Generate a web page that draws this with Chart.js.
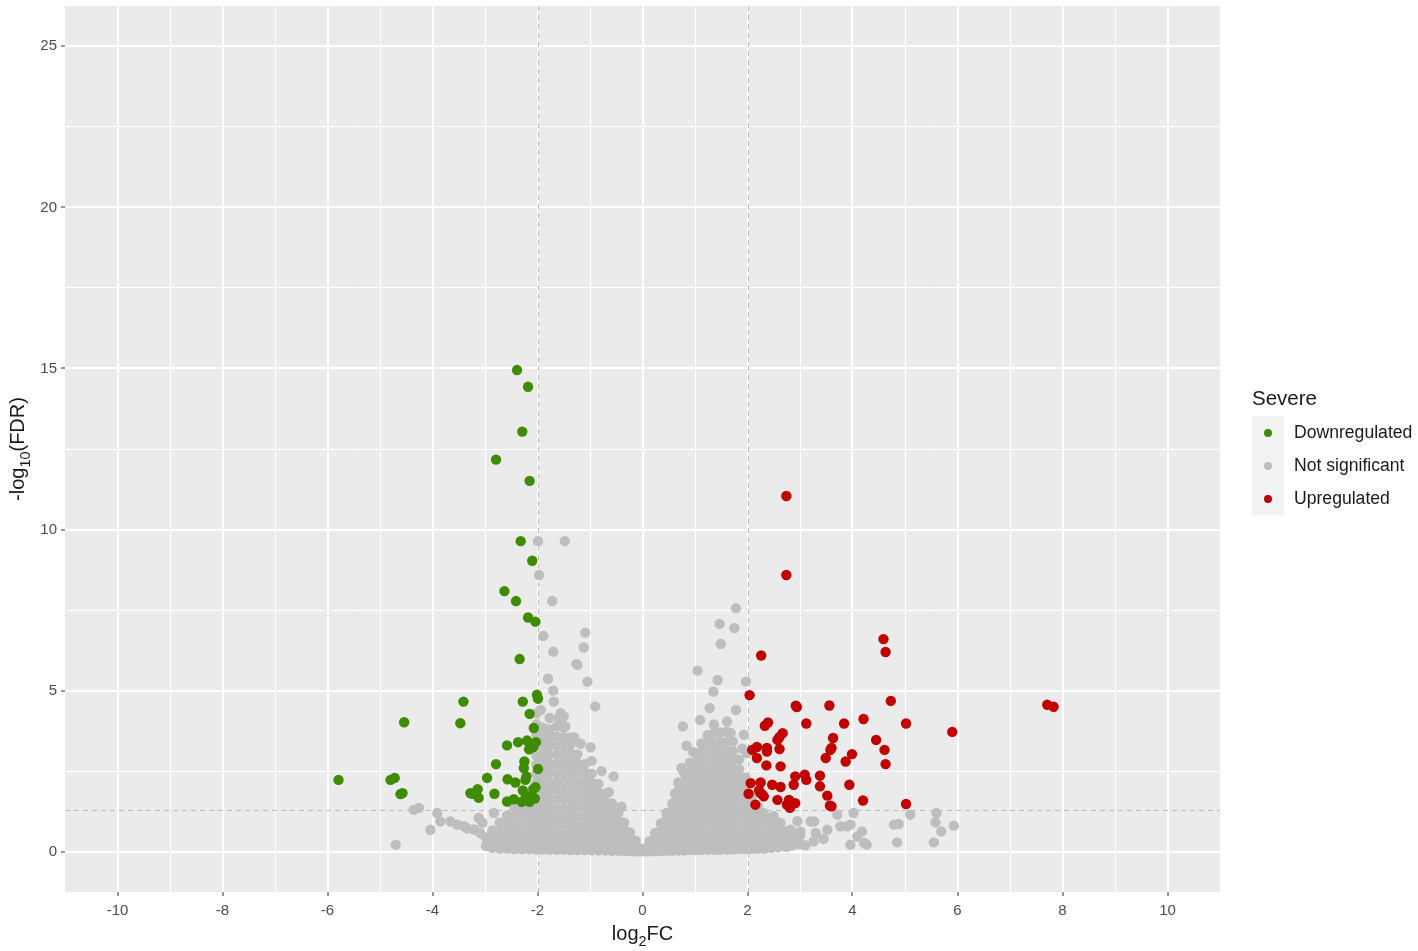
<!DOCTYPE html>
<html>
<head>
<meta charset="utf-8">
<title>Volcano plot - Severe</title>
<script src="https://cdn.jsdelivr.net/npm/chart.js@4.4.1/dist/chart.umd.min.js"></script>
<style>
  html, body { margin: 0; padding: 0; background: #fff; }
  #wrap { position: relative; width: 1418px; height: 951px; }
  #legend { position: absolute; left: 1252px; top: 386px; font-family: "Liberation Sans", Arial, sans-serif; color: #1a1a1a; }
  #legend .ttl { font-size: 20.5px; line-height: 24px; margin-bottom: 6px; }
  #legend .row { display: flex; align-items: center; height: 33px; }
  #legend .key { width: 32px; height: 33px; background: #F2F2F2; display: flex; align-items: center; justify-content: center; }
  #legend .dot { width: 8px; height: 8px; border-radius: 50%; }
  #legend .lbl { font-size: 17.6px; margin-left: 10px; }
</style>
</head>
<body>
<div id="wrap">
  <canvas id="volcano" width="1418" height="951"></canvas>
  <div id="legend"></div>
</div>
<script>
// ---- data (x = log2FC, y = -log10(FDR)) ----
const groupNames = ['Downregulated', 'Not significant', 'Upregulated'];
const groupColors = ['#3F8C00', '#BEBEBE', '#C20000'];
const legendTitle = 'Severe';

const xGridVals = [-11, -10, -9, -8, -7, -6, -5, -4, -3, -2, -1, 0, 1, 2, 3, 4, 5, 6, 7, 8, 9, 10, 11];
const xLabelVals = [-10, -8, -6, -4, -2, 0, 2, 4, 6, 8, 10];
const yGridVals = [0, 2.5, 5, 7.5, 10, 12.5, 15, 17.5, 20, 22.5, 25];
const yLabelVals = [0, 5, 10, 15, 20, 25];
const fcCut = 2;
const fdrCut = 1.3;

const downPoints = [
  [-5.79, 2.23], [-4.80, 2.23], [-4.72, 2.29], [-4.61, 1.79], [-4.57, 1.82], [-4.54, 4.02],
  [-3.47, 3.99], [-3.41, 4.66], [-3.28, 1.82], [-3.14, 1.94], [-3.12, 1.67], [-3.24, 1.80],
  [-2.96, 2.29], [-2.82, 1.80], [-2.79, 2.72], [-2.79, 12.17], [-2.63, 8.09], [-2.58, 3.30],
  [-2.57, 2.25], [-2.58, 1.56], [-2.45, 1.63], [-2.42, 2.15], [-2.41, 7.78], [-2.39, 14.95],
  [-2.37, 3.40], [-2.34, 5.98], [-2.32, 9.64], [-2.29, 13.04], [-2.28, 4.66], [-2.26, 2.60],
  [-2.25, 2.80], [-2.23, 2.23], [-2.21, 2.34], [-2.18, 14.43], [-2.18, 7.27], [-2.15, 11.51],
  [-2.15, 4.28], [-2.10, 9.03], [-2.07, 3.84], [-2.04, 7.14], [-2.01, 4.87], [-1.99, 4.75],
  [-1.99, 2.57], [-2.20, 3.45], [-2.14, 3.35], [-2.08, 3.25], [-2.03, 3.40], [-2.16, 3.18],
  [-2.28, 1.90], [-2.22, 1.70], [-2.15, 1.55], [-2.08, 1.95], [-2.04, 2.00], [-2.30, 1.55],
  [-2.12, 1.75], [-2.05, 1.65]
];

const upPoints = [
  [2.74, 11.04], [2.74, 8.59], [4.59, 6.60], [4.63, 6.20], [2.26, 6.09], [2.04, 4.86],
  [4.73, 4.68], [2.92, 4.53], [2.94, 4.49], [3.56, 4.54], [3.12, 3.98], [3.84, 3.98],
  [4.21, 4.12], [5.02, 3.98], [5.90, 3.72], [2.33, 3.91], [2.39, 4.01], [2.61, 3.56],
  [2.67, 3.68], [2.57, 3.47], [3.63, 3.53], [3.60, 3.22], [3.58, 3.16], [3.49, 2.91],
  [4.45, 3.47], [4.61, 3.16], [4.63, 2.72], [3.99, 3.03], [3.87, 2.80], [2.09, 3.16],
  [2.18, 3.25], [2.18, 2.91], [2.37, 3.22], [2.37, 3.11], [2.61, 3.19], [2.36, 2.68],
  [2.63, 2.65], [2.06, 2.13], [2.25, 2.15], [2.02, 1.80], [2.25, 1.82], [2.31, 1.72],
  [2.15, 1.46], [2.47, 2.08], [2.63, 2.01], [2.57, 1.61], [2.79, 1.61], [2.81, 1.36],
  [2.91, 1.51], [2.91, 2.34], [2.88, 2.08], [3.09, 2.39], [3.12, 2.23], [3.38, 2.36],
  [3.38, 2.03], [3.52, 1.74], [3.57, 1.43], [3.60, 1.41], [3.94, 2.08], [4.20, 1.59],
  [5.02, 1.48], [7.71, 4.56], [7.83, 4.50], [2.28, 1.78], [2.22, 1.90], [2.75, 1.46]
];

// not significant: dense left body, one x column per entry
const nsLeftBody = [
  [-2.98, [0.18, 0.44]],
  [-2.86, [0.12, 0.38, 0.66]],
  [-2.72, [0.1, 0.36, 0.62, 0.9]],
  [-2.58, [0.1, 0.34, 0.6, 0.86, 1.12]],
  [-2.44, [0.08, 0.33, 0.58, 0.84, 1.1, 1.36]],
  [-2.3, [0.08, 0.32, 0.58, 0.85, 1.12, 1.38]],
  [-2.16, [0.08, 0.3, 0.56, 0.83, 1.1, 1.36, 1.62]],
  [-2.02, [0.07, 0.3, 0.55, 0.8, 1.06, 1.32, 1.6, 1.88, 2.15, 2.42, 2.7, 2.98, 3.3, 3.62, 3.95, 4.3]],
  [-1.9, [0.07, 0.32, 0.58, 0.84, 1.1, 1.37, 1.64, 1.92, 2.2, 2.48, 2.76, 3.04, 3.32, 3.6, 3.85]],
  [-1.77, [0.06, 0.3, 0.56, 0.82, 1.08, 1.35, 1.62, 1.9, 2.17, 2.45, 2.72, 3.0, 3.28, 3.55, 3.8, 4.15]],
  [-1.63, [0.06, 0.31, 0.57, 0.84, 1.1, 1.37, 1.64, 1.91, 2.18, 2.46, 2.74, 3.02, 3.3, 3.58, 3.9]],
  [-1.5, [0.06, 0.3, 0.55, 0.82, 1.09, 1.36, 1.63, 1.9, 2.18, 2.45, 2.73, 3.0, 3.28, 3.55, 3.85, 4.2]],
  [-1.37, [0.05, 0.3, 0.56, 0.83, 1.1, 1.37, 1.64, 1.92, 2.2, 2.48, 2.76, 3.04, 3.32, 3.55]],
  [-1.24, [0.05, 0.29, 0.55, 0.81, 1.08, 1.35, 1.62, 1.9, 2.18, 2.46, 2.74, 3.02]],
  [-1.1, [0.05, 0.29, 0.55, 0.82, 1.09, 1.36, 1.63, 1.9, 2.17, 2.45, 2.72]],
  [-0.97, [0.04, 0.28, 0.54, 0.8, 1.06, 1.33, 1.6, 1.87, 2.14, 2.42]],
  [-0.84, [0.04, 0.27, 0.52, 0.78, 1.04, 1.3, 1.56, 1.83, 2.1]],
  [-0.71, [0.04, 0.26, 0.5, 0.76, 1.02, 1.28, 1.54, 1.8]],
  [-0.58, [0.03, 0.25, 0.49, 0.74, 1.0, 1.25, 1.5]],
  [-0.46, [0.03, 0.24, 0.47, 0.72, 0.97, 1.2]],
  [-0.35, [0.02, 0.22, 0.45, 0.68, 0.9]],
  [-0.24, [0.02, 0.2, 0.42, 0.6]],
  [-0.13, [0.01, 0.18, 0.34]],
  [-0.04, [0.01, 0.1]]
];

// not significant: dense right body
const nsRightBody = [
  [0.04, [0.01, 0.1]],
  [0.13, [0.01, 0.16, 0.32]],
  [0.24, [0.02, 0.2, 0.4, 0.58]],
  [0.35, [0.02, 0.22, 0.44, 0.66, 0.88]],
  [0.46, [0.03, 0.25, 0.5, 0.75, 1.0, 1.2]],
  [0.57, [0.03, 0.26, 0.52, 0.78, 1.04, 1.3, 1.5]],
  [0.68, [0.04, 0.28, 0.54, 0.8, 1.06, 1.33, 1.6, 1.88, 2.15]],
  [0.79, [0.04, 0.29, 0.55, 0.82, 1.09, 1.36, 1.63, 1.9, 2.18, 2.46]],
  [0.9, [0.05, 0.3, 0.56, 0.83, 1.1, 1.37, 1.64, 1.92, 2.2, 2.48, 2.76]],
  [1.01, [0.05, 0.3, 0.57, 0.84, 1.11, 1.38, 1.66, 1.94, 2.22, 2.5, 2.78, 3.06]],
  [1.12, [0.05, 0.31, 0.58, 0.85, 1.12, 1.4, 1.68, 1.96, 2.24, 2.52, 2.8, 3.08, 3.36]],
  [1.24, [0.06, 0.31, 0.58, 0.86, 1.13, 1.41, 1.69, 1.97, 2.25, 2.53, 2.81, 3.09, 3.37, 3.62]],
  [1.36, [0.06, 0.32, 0.59, 0.86, 1.14, 1.42, 1.7, 1.98, 2.26, 2.54, 2.82, 3.1, 3.38, 3.68, 3.95]],
  [1.48, [0.06, 0.32, 0.59, 0.87, 1.15, 1.43, 1.71, 1.99, 2.27, 2.55, 2.83, 3.11, 3.4, 3.7]],
  [1.6, [0.07, 0.32, 0.6, 0.87, 1.15, 1.43, 1.71, 1.99, 2.27, 2.55, 2.83, 3.11, 3.4, 3.72]],
  [1.72, [0.07, 0.33, 0.6, 0.88, 1.16, 1.44, 1.72, 2.0, 2.28, 2.56, 2.84, 3.12, 3.42]],
  [1.84, [0.08, 0.33, 0.6, 0.88, 1.16, 1.44, 1.72, 2.0, 2.28, 2.56, 2.86]],
  [1.96, [0.08, 0.34, 0.6, 0.88, 1.16, 1.44, 1.72, 2.0, 2.3]],
  [2.08, [0.09, 0.34, 0.6, 0.88, 1.16, 1.44, 1.7]],
  [2.2, [0.1, 0.35, 0.6, 0.88, 1.15, 1.4]],
  [2.32, [0.1, 0.36, 0.62, 0.9, 1.12]],
  [2.45, [0.12, 0.38, 0.64, 0.88]],
  [2.58, [0.14, 0.4, 0.66]],
  [2.72, [0.16, 0.42, 0.62]],
  [2.86, [0.2, 0.44]],
  [3.0, [0.24, 0.5]]
];

// not significant: scattered tails and outliers
const nsScatter = [
  [-4.70, 0.22], [-4.36, 1.30], [-4.26, 1.36], [-4.04, 0.68], [-3.91, 1.20], [-3.85, 0.94],
  [-3.66, 0.94], [-3.53, 0.84], [-3.40, 0.79], [-3.34, 0.73], [-3.21, 0.69], [-3.09, 0.58],
  [-3.12, 1.05], [-2.96, 0.37], [-2.83, 1.20], [-3.05, 0.90],
  [-1.99, 9.64], [-1.48, 9.64], [-1.97, 8.59], [-1.72, 7.78], [-1.89, 6.70], [-1.70, 6.21],
  [-1.26, 5.83], [-1.80, 5.37], [-1.70, 5.00], [-1.09, 6.80], [-1.12, 6.34], [-1.24, 5.80],
  [-1.05, 5.28], [-0.90, 4.51], [-0.99, 3.24], [-0.97, 2.82], [-0.55, 2.34], [-1.94, 4.40],
  [-1.69, 4.66], [-1.56, 4.30], [-1.59, 4.15], [-1.47, 3.89], [-1.18, 3.35], [-0.78, 2.5],
  [-0.64, 1.85], [-0.4, 1.4], [-1.3, 3.55],
  [1.78, 7.56], [1.47, 7.07], [1.75, 6.94], [1.49, 6.45], [1.05, 5.62], [1.43, 5.33],
  [1.35, 4.97], [1.97, 5.28], [1.28, 4.46], [1.78, 4.40], [0.77, 3.89], [0.84, 3.29],
  [1.93, 3.63], [1.93, 2.03], [1.68, 3.69], [1.61, 4.04], [1.10, 4.09], [1.99, 3.06],
  [0.62, 1.8], [0.74, 2.6], [0.96, 3.1], [1.9, 3.2],
  [2.31, 1.20], [2.63, 0.89], [2.82, 0.68], [3.01, 0.63], [3.20, 0.94], [3.27, 0.94],
  [3.30, 0.58], [3.26, 0.32], [3.52, 0.68], [3.71, 1.15], [3.77, 0.79], [3.90, 0.79],
  [3.96, 0.84], [3.96, 0.22], [4.02, 1.20], [4.09, 0.47], [4.18, 0.63], [4.22, 0.27],
  [4.27, 0.22], [4.79, 0.84], [4.85, 0.29], [4.88, 0.86], [5.10, 1.15], [5.55, 0.29],
  [5.58, 0.91], [5.60, 1.20], [5.69, 0.63], [5.93, 0.81], [2.76, 0.16], [3.10, 0.20],
  [3.45, 0.40], [2.95, 0.95], [2.50, 1.10]
];

// ---- build chart data ----
const toXY = arr => arr.map(p => ({ x: p[0], y: p[1] }));
const fromColumns = cols => cols.flatMap(c => c[1].map(y => ({ x: c[0], y: y })));
const nsData = fromColumns(nsLeftBody).concat(fromColumns(nsRightBody), toXY(nsScatter));

const FONT = '"Liberation Sans", Arial, sans-serif';
const isIn = (list, v) => list.some(t => Math.abs(t - v) < 1e-9);

const panelBg = {
  id: 'panelBg',
  beforeDraw(chart) {
    const a = chart.chartArea, ctx = chart.ctx;
    ctx.save();
    ctx.fillStyle = '#EBEBEB';
    ctx.fillRect(a.left, a.top, a.right - a.left, a.bottom - a.top);
    ctx.restore();
  }
};

const cutLines = {
  id: 'cutLines',
  beforeDatasetsDraw(chart) {
    const a = chart.chartArea, ctx = chart.ctx;
    const xs = chart.scales.x, ys = chart.scales.y;
    ctx.save();
    ctx.strokeStyle = '#BDBDBD';
    ctx.lineWidth = 1;
    ctx.setLineDash([5, 4]);
    [-fcCut, fcCut].forEach(v => {
      const px = Math.round(xs.getPixelForValue(v)) + 0.5;
      ctx.beginPath(); ctx.moveTo(px, a.top); ctx.lineTo(px, a.bottom); ctx.stroke();
    });
    const py = Math.round(ys.getPixelForValue(fdrCut)) + 0.5;
    ctx.beginPath(); ctx.moveTo(a.left, py); ctx.lineTo(a.right, py); ctx.stroke();
    ctx.restore();
  }
};

// axis titles with subscripts
function drawSub(ctx, parts, size) {
  let w = 0;
  parts.forEach(p => { ctx.font = (p.sub ? size * 0.72 : size) + 'px ' + FONT; w += ctx.measureText(p.t).width; });
  let x = -w / 2;
  parts.forEach(p => {
    const s = p.sub ? size * 0.72 : size;
    ctx.font = s + 'px ' + FONT;
    ctx.fillText(p.t, x, p.sub ? size * 0.28 : 0);
    x += ctx.measureText(p.t).width;
  });
}

const axisTitles = {
  id: 'axisTitles',
  afterDraw(chart) {
    const a = chart.chartArea, ctx = chart.ctx;
    ctx.save();
    ctx.fillStyle = '#1a1a1a';
    ctx.textBaseline = 'alphabetic';
    ctx.textAlign = 'left';
    ctx.translate((a.left + a.right) / 2, 940);
    drawSub(ctx, [{ t: 'log' }, { t: '2', sub: true }, { t: 'FC' }], 20);
    ctx.restore();
    ctx.save();
    ctx.fillStyle = '#1a1a1a';
    ctx.textAlign = 'left';
    ctx.translate(24, (a.top + a.bottom) / 2);
    ctx.rotate(-Math.PI / 2);
    drawSub(ctx, [{ t: '-log' }, { t: '10', sub: true }, { t: '(FDR)' }], 20);
    ctx.restore();
  }
};

const datasets = [
  { label: groupNames[0], data: toXY(downPoints), backgroundColor: groupColors[0], order: 1 },
  { label: groupNames[1], data: nsData, backgroundColor: groupColors[1], order: 3 },
  { label: groupNames[2], data: toXY(upPoints), backgroundColor: groupColors[2], order: 2 }
].map(d => Object.assign(d, { pointRadius: 5.2, pointHoverRadius: 5.2, borderWidth: 0 }));

new Chart(document.getElementById('volcano'), {
  type: 'scatter',
  data: { datasets: datasets },
  options: {
    responsive: false,
    animation: false,
    layout: { padding: { top: 6, right: 198, left: 0, bottom: 0 } },
    plugins: { legend: { display: false }, tooltip: { enabled: false } },
    scales: {
      x: {
        type: 'linear', min: -11, max: 11,
        afterBuildTicks: s => { s.ticks = xGridVals.map(v => ({ value: v })); },
        afterFit: s => { s.height = 59; s.paddingLeft = 0; s.paddingRight = 0; },
        ticks: {
          autoSkip: false, maxRotation: 0, padding: 6, color: '#4D4D4D',
          font: { family: FONT, size: 15 },
          callback: v => isIn(xLabelVals, v) ? String(v) : ''
        },
        grid: {
          color: ctx => Math.abs(ctx.tick.value) > 10.5 ? 'rgba(0,0,0,0)' : '#FFFFFF',
          lineWidth: ctx => isIn(xLabelVals, ctx.tick.value) ? 2 : 1,
          tickLength: 4, tickWidth: 1,
          tickColor: ctx => isIn(xLabelVals, ctx.tick.value) ? '#333333' : 'rgba(0,0,0,0)'
        },
        border: { display: false }
      },
      y: {
        type: 'linear', min: -1.25, max: 26.25,
        afterBuildTicks: s => { s.ticks = yGridVals.map(v => ({ value: v })); },
        afterFit: s => { s.width = 65; s.paddingTop = 0; s.paddingBottom = 0; },
        ticks: {
          autoSkip: false, padding: 4, color: '#4D4D4D',
          font: { family: FONT, size: 15 },
          callback: v => isIn(yLabelVals, v) ? String(v) : ''
        },
        grid: {
          color: '#FFFFFF',
          lineWidth: ctx => isIn(yLabelVals, ctx.tick.value) ? 2 : 1,
          tickLength: 4, tickWidth: 1,
          tickColor: ctx => isIn(yLabelVals, ctx.tick.value) ? '#333333' : 'rgba(0,0,0,0)'
        },
        border: { display: false }
      }
    }
  },
  plugins: [panelBg, cutLines, axisTitles]
});

// legend
const legend = document.getElementById('legend');
let html = '<div class="ttl">' + legendTitle + '</div>';
groupNames.forEach((n, i) => {
  html += '<div class="row"><div class="key"><div class="dot" style="background:' + groupColors[i] +
    '"></div></div><div class="lbl">' + n + '</div></div>';
});
legend.innerHTML = html;
</script>
</body>
</html>
